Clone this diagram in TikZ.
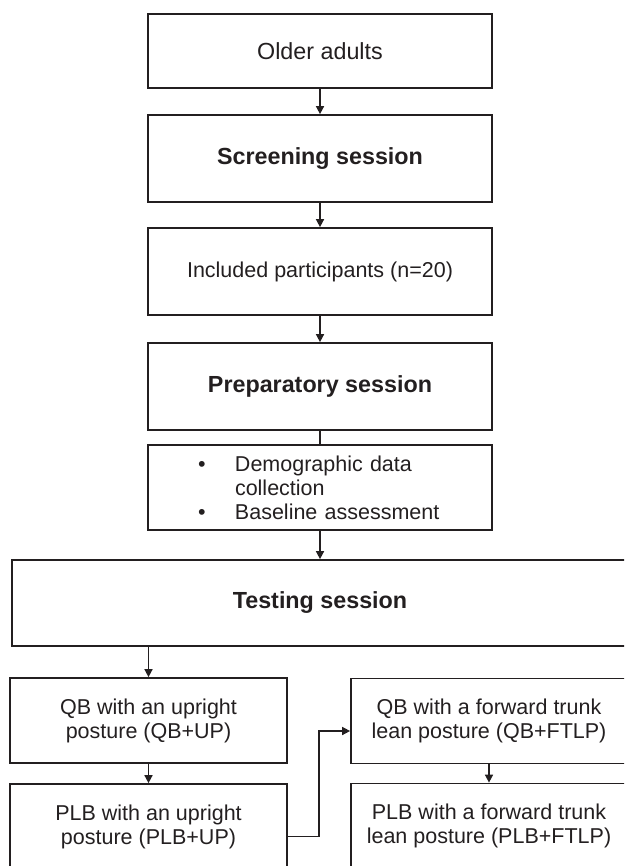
\documentclass[tikz,border=0pt]{standalone}
\usepackage{fontspec}
\setmainfont{Liberation Sans}
\usetikzlibrary{arrows.meta}
\definecolor{ink}{HTML}{231F20}
\tikzset{
  box/.style={draw=ink, line width=1.7pt, minimum width=344pt, inner sep=0pt,
    align=center, text=ink, font=\fontsize{21.5}{24}\selectfont},
  bigbox/.style={box, font=\fontsize{23.3}{26}\selectfont},
  headbox/.style={box, font=\fontsize{23.3}{26}\selectfont\bfseries},
  conn/.style={draw=ink, line width=1.5pt},
  arr/.style={conn, -{Triangle[length=8pt,width=8pt]}},
}
\begin{document}
\begin{tikzpicture}[x=1pt,y=-1pt] % study flow
          \useasboundingbox (0,0) rectangle (624,866);
          \clip (0,0) rectangle (624,866);
          \node[bigbox, minimum height=74pt] (older) at (320,51) {Older adults};
          \node[headbox, minimum height=87pt] (screen) at (320,158.5) {Screening session};
          \node[box, minimum height=87pt] (incl) at (320,271.5) {Included participants (n=20)};
          \node[headbox, minimum height=87pt] (prep) at (320,386.5) {Preparatory session};
          \node[box, minimum height=85pt, text width=344pt, align=left] (base) at (320,487.5)
            {\hspace*{50pt}\makebox[37pt][l]{•}Demographic data\\
             \hspace*{87pt}collection\\
             \hspace*{50pt}\makebox[37pt][l]{•}Baseline assessment};
          \node[headbox, minimum width=616pt, minimum height=86pt] (test) at (320,603) {Testing session};
          \node[box, minimum width=277pt, minimum height=85pt] (qbup) at (148.5,720.5) {QB with an upright\\posture (QB+UP)};
          \node[box, minimum width=277pt, minimum height=85pt] (plbup) at (148.5,826.5) {PLB with an upright\\posture (PLB+UP)};
          \node[box, minimum width=276pt, minimum height=85pt] (qbft) at (489,721) {QB with a forward trunk\\lean posture (QB+FTLP)};
          \node[box, minimum width=276pt, minimum height=85pt] (plbft) at (489,826) {PLB with a forward trunk\\lean posture (PLB+FTLP)};
          \draw[arr] (older) -- (screen);
          \draw[arr] (screen) -- (incl);
          \draw[arr] (incl) -- (prep);
          \draw[conn] (prep) -- (base);
          \draw[arr] (base) -- (test);
          \draw[arr] (test.south -| qbup.north) -- (qbup.north);
          \draw[arr] (qbup) -- (plbup);
          \draw[arr] (qbft) -- (plbft);
          \draw[arr] ([yshift=-10pt]plbup.east) -- ++(31,0) |- ([yshift=-10pt]qbft.west);
        \end{tikzpicture}
\end{document}
